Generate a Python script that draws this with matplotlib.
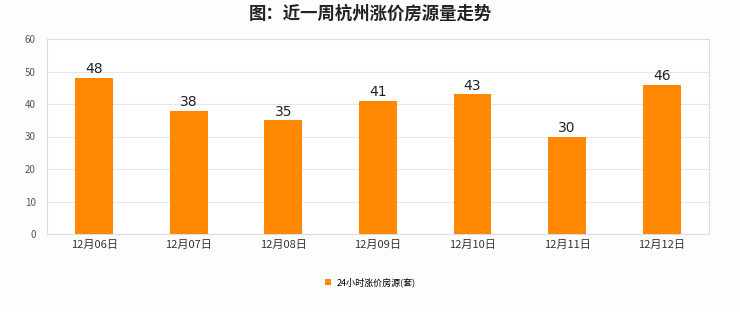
import matplotlib
matplotlib.use('Agg')
import matplotlib.pyplot as plt
import numpy as np

plt.rcParams['font.family'] = ['Noto Sans CJK SC', 'DejaVu Sans']

dates = ["12月06日", "12月07日", "12月08日", "12月09日", "12月10日", "12月11日", "12月12日"]
counts = [48, 38, 35, 41, 43, 30, 46]
series_name = "24小时涨价房源(套)"
title = "图：近一周杭州涨价房源量走势"

fig = plt.figure(figsize=(7.4, 3.12), dpi=100, facecolor='#fdfdfd')
ax = fig.add_axes([0.0635, 0.25, 0.8945, 0.625], facecolor='white')

x = np.arange(len(dates))
ax.bar(x, counts, width=0.4, color='#ff8800', label=series_name, zorder=3)
for xi, v in zip(x, counts):
    ax.text(xi, v + 0.5, str(v), ha='center', va='bottom', fontsize=10,
            color='#222222', family=['DejaVu Sans'])

ax.set_xlim(-0.5, len(dates) - 0.5)
ax.set_ylim(0, 60)
ax.set_yticks(range(0, 61, 10))
ax.set_xticks(x)
ax.set_xticklabels(dates, fontsize=8, color='#333333')
ax.tick_params(axis='y', labelsize=7, colors='#555555', length=0, pad=8)
ax.tick_params(axis='x', length=0, pad=4)
ax.grid(axis='y', color='#e6e6e6', linewidth=0.8, zorder=0)
for side in ['top', 'right', 'left', 'bottom']:
    ax.spines[side].set_color('#dddddd')
    ax.spines[side].set_linewidth(0.8)

fig.suptitle(title, x=0.5, y=0.985, fontsize=12.5, fontweight='bold', color='#222222')
fig.legend(loc='center', bbox_to_anchor=(0.5, 0.095), fontsize=6.5, frameon=False,
           handlelength=0.7, handleheight=0.7, handletextpad=0.6)

plt.savefig('out.png', dpi=100, facecolor=fig.get_facecolor())
plt.close()
